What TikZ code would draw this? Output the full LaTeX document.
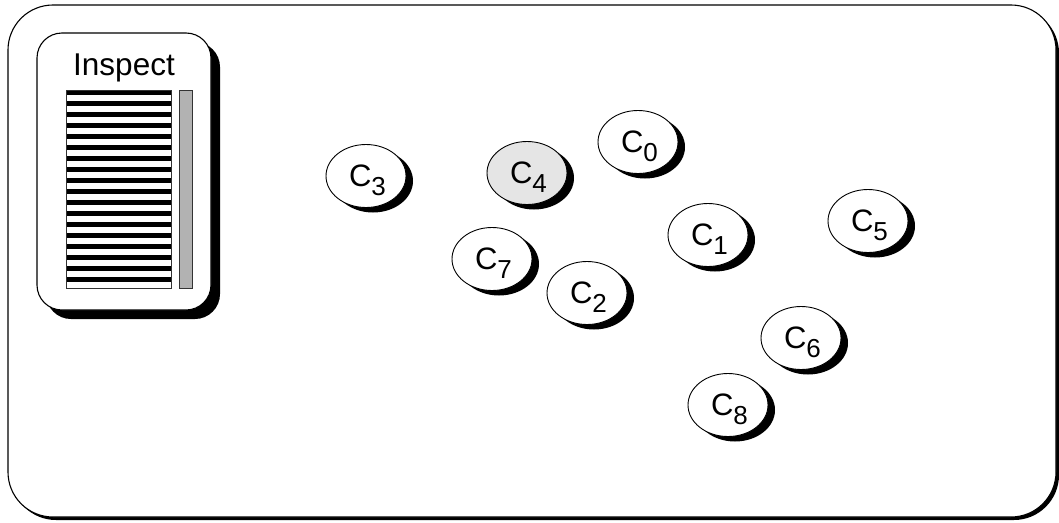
\documentclass[tikz,border=0pt]{standalone}
\usepackage{fontspec}
\setmainfont{Liberation Sans}
\usetikzlibrary{shapes.geometric,shadows}
\newcommand{\clab}[1]{{\fontsize{31}{31}\selectfont C}\raisebox{-9.5pt}{\fontsize{26}{26}\selectfont #1}}
\begin{document}
\begin{tikzpicture}[x=1pt,y=-1pt,
  frame/.style={rectangle,draw=black,line width=1.1pt,fill=white,rounded corners=45pt,
     minimum width=1048pt,minimum height=512pt,inner sep=0pt,
     drop shadow={shadow xshift=3pt,shadow yshift=-3pt,fill=black,opacity=1}},
  panel/.style={rectangle,draw=black,line width=1.1pt,fill=white,rounded corners=25pt,
     minimum width=174pt,minimum height=277pt,inner sep=0pt,
     drop shadow={shadow xshift=9pt,shadow yshift=-9pt,fill=black,opacity=1}},
  listbox/.style={rectangle,draw=black!80,line width=0.8pt,minimum width=104.3pt,minimum height=198pt,inner sep=0pt},
  sbar/.style={rectangle,draw=black!80,line width=0.8pt,fill=black!30,minimum width=13.7pt,minimum height=198pt,inner sep=0pt},
  cell/.style={ellipse,draw=black,line width=0.9pt,fill=white,minimum width=80pt,minimum height=63pt,inner sep=0pt,
     drop shadow={shadow xshift=7pt,shadow yshift=-5pt,fill=black,opacity=1}},
  hot/.style={cell,fill=black!10},
  lab/.style={anchor=base,inner sep=0pt}
]
\useasboundingbox (0,0) rectangle (1059,522);
\node[frame] (fr) at (532,261) {};
\node[panel] (pn) at (124,171.5) {};
\node[lab] (title) at (124,75) {\fontsize{31.5}{31.5}\selectfont Inspect};
\fill[white] (66.7,90) rectangle (171,288);
\foreach \k in {0,...,17}{
  \fill[black] (66.7,90+11*\k) rectangle (171,94.5+11*\k);
}
\node[listbox] (lb) at (118.85,189) {};
\node[sbar] (sb) at (185.85,189) {};

\node[cell] (c0) at (638,142) {};
\node[cell] (c1) at (708,235) {};
\node[cell] (c2) at (587,293) {};
\node[cell] (c3) at (366,176) {};
\node[hot]  (c4) at (527,173) {};
\node[cell] (c5) at (868,221) {};
\node[cell] (c6) at (801,338) {};
\node[cell] (c7) at (492,259) {};
\node[cell] (c8) at (728,405) {};

\foreach \n in {0,...,8}{
  \node[lab] (l\n) at ([shift={(1.5,10)}]c\n.center) {\clab{\n}};
}
\end{tikzpicture}
\end{document}
